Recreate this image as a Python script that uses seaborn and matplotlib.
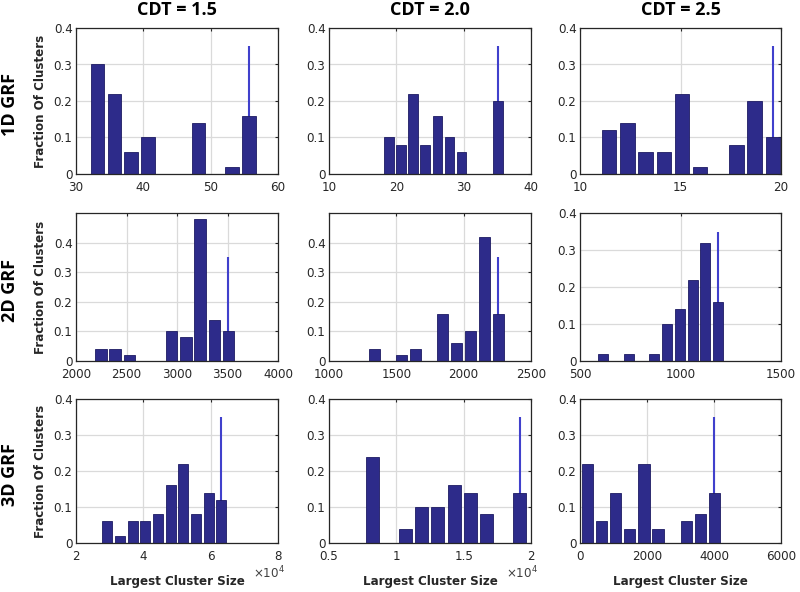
import matplotlib
matplotlib.use("Agg")
import matplotlib.pyplot as plt
from matplotlib.ticker import FuncFormatter, FixedLocator
import seaborn as sns
import pandas as pd

# ---------------- data ----------------
cdt_labels = ["CDT = 1.5", "CDT = 2.0", "CDT = 2.5"]
grf_labels = ["1D GRF", "2D GRF", "3D GRF"]

bins_1d_15 = [33.2, 35.7, 38.2, 40.7, 43.2, 45.7, 48.2, 50.7, 53.2, 55.7]
frac_1d_15 = [0.30, 0.22, 0.06, 0.10, 0.0, 0.0, 0.14, 0.0, 0.02, 0.16]

bins_1d_20 = [18.9, 20.7, 22.5, 24.3, 26.1, 27.9, 29.7, 31.5, 33.3, 35.1]
frac_1d_20 = [0.10, 0.08, 0.22, 0.08, 0.16, 0.10, 0.06, 0.0, 0.0, 0.20]

bins_1d_25 = [11.45, 12.36, 13.26, 14.17, 15.07, 15.98, 16.88, 17.79, 18.69, 19.6]
frac_1d_25 = [0.12, 0.14, 0.06, 0.06, 0.22, 0.02, 0.0, 0.08, 0.20, 0.10]

bins_2d_15 = [2247, 2387, 2527, 2668, 2808, 2948, 3088, 3228, 3369, 3509]
frac_2d_15 = [0.04, 0.04, 0.02, 0.0, 0.0, 0.10, 0.08, 0.48, 0.14, 0.10]

bins_2d_20 = [1335, 1437, 1539, 1642, 1744, 1846, 1948, 2050, 2153, 2255]
frac_2d_20 = [0.04, 0.0, 0.02, 0.04, 0.0, 0.16, 0.06, 0.10, 0.42, 0.16]

bins_2d_25 = [615, 679, 742, 806, 870, 933, 997, 1061, 1124, 1188]
frac_2d_25 = [0.02, 0.0, 0.02, 0.0, 0.02, 0.10, 0.14, 0.22, 0.32, 0.16]

bins_3d_15 = [29200, 33000, 36800, 40500, 44300, 48100, 51900, 55600, 59400, 63200]
frac_3d_15 = [0.06, 0.02, 0.06, 0.06, 0.08, 0.16, 0.22, 0.08, 0.14, 0.12]

bins_3d_20 = [8220, 9440, 10650, 11870, 13080, 14300, 15520, 16730, 17950, 19160]
frac_3d_20 = [0.24, 0.0, 0.04, 0.10, 0.10, 0.16, 0.14, 0.08, 0.0, 0.14]

bins_3d_25 = [228, 648, 1068, 1488, 1908, 2328, 2748, 3168, 3588, 4008]
frac_3d_25 = [0.22, 0.06, 0.14, 0.04, 0.22, 0.04, 0.0, 0.06, 0.08, 0.14]

ref_x = [[55.7, 35.1, 19.6], [3509, 2257, 1188], [63200, 19170, 4000]]
ref_top = 0.35

xlims = [[(30, 60), (10, 40), (10, 20)],
         [(2000, 4000), (1000, 2500), (500, 1500)],
         [(20000, 80000), (5000, 20000), (0, 6000)]]
xticks = [[[30, 40, 50, 60], [10, 20, 30, 40], [10, 15, 20]],
          [[2000, 2500, 3000, 3500, 4000], [1000, 1500, 2000, 2500], [500, 1000, 1500]],
          [[20000, 40000, 60000, 80000], [5000, 10000, 15000, 20000], [0, 2000, 4000, 6000]]]
xscale = [[1, 1, 1], [1, 1, 1], [1e4, 1e4, 1]]
ylims = [[0.4, 0.4, 0.4], [0.5, 0.5, 0.4], [0.4, 0.4, 0.4]]
yticks = [0, 0.1, 0.2, 0.3, 0.4]

bins = [[bins_1d_15, bins_1d_20, bins_1d_25],
        [bins_2d_15, bins_2d_20, bins_2d_25],
        [bins_3d_15, bins_3d_20, bins_3d_25]]
fracs = [[frac_1d_15, frac_1d_20, frac_1d_25],
         [frac_2d_15, frac_2d_20, frac_2d_25],
         [frac_3d_15, frac_3d_20, frac_3d_25]]

# ---------------- style ----------------
sns.set_style("white")
plt.rcParams["font.family"] = ["DejaVu Sans"]

BAR = "#2d2b8a"
EDGE = "#1d1b63"
LINE = "#4040cc"
TXT = "#262626"

W, H = 800, 592
fig = plt.figure(figsize=(8.0, 5.92), dpi=100)

col_left = [76, 329, 580]
col_w = [202, 202, 201]
row_top = [28, 213, 399]
row_bot = [174, 361, 543]

for r in range(3):
    for c in range(3):
        l = col_left[c]
        t = row_top[r]
        b = row_bot[r]
        ax = fig.add_axes([l / W, 1 - b / H, col_w[c] / W, (b - t) / H])
        df = pd.DataFrame({"center": bins[r][c], "fraction": fracs[r][c]})
        sns.barplot(data=df, x="center", y="fraction", native_scale=True,
                    orient="x", ax=ax, color=BAR, saturation=1, errorbar=None,
                    width=0.8, edgecolor=EDGE, linewidth=0.6, zorder=2)
        ax.vlines(ref_x[r][c], 0, ref_top, color=LINE, lw=1.5, zorder=1.5)
        ax.set_xlim(*xlims[r][c])
        ax.set_ylim(0, ylims[r][c])
        ax.xaxis.set_major_locator(FixedLocator(xticks[r][c]))
        ax.yaxis.set_major_locator(FixedLocator(yticks))
        s = xscale[r][c]
        ax.xaxis.set_major_formatter(FuncFormatter(lambda v, p, s=s: "%g" % (v / s)))
        ax.yaxis.set_major_formatter(FuncFormatter(lambda v, p: "%g" % v))
        ax.set_xlabel("")
        ax.set_ylabel("")
        ax.grid(True, color="#dadada", lw=0.9, zorder=0)
        ax.set_axisbelow(True)
        for sp in ax.spines.values():
            sp.set_visible(True)
            sp.set_color(TXT)
            sp.set_linewidth(0.9)
            sp.set_zorder(5)
        ax.tick_params(axis="both", which="major", direction="in", length=2.5,
                       width=0.8, color=TXT, labelcolor=TXT, labelsize=8.6,
                       top=True, right=True)
        ax.tick_params(axis="x", pad=5)
        ax.tick_params(axis="y", pad=2.5)
        if s != 1:
            ax.text(1.035, -0.205, r"$\times10^4$", transform=ax.transAxes,
                    ha="right", va="center", fontsize=8.6, color="#404040")
        if c == 0:
            fig.text(41 / W, 1 - ((t + b) / 2) / H, "Fraction Of Clusters",
                     rotation=90, ha="center", va="center", fontsize=8.6,
                     fontweight="bold", color=TXT)
            fig.text(10 / W, 1 - ((t + b) / 2 + 4) / H, grf_labels[r],
                     rotation=90, ha="center", va="center", fontsize=13,
                     fontweight="bold", family=["Open Sans", "DejaVu Sans"],
                     color="black")
        if r == 0:
            fig.text((l + col_w[c] / 2) / W, 1 - 10 / H, cdt_labels[c],
                     ha="center", va="center", fontsize=13, fontweight="bold",
                     family=["Open Sans", "DejaVu Sans"], color="black")
        if r == 2:
            fig.text((l + col_w[c] / 2) / W, 1 - 582 / H, "Largest Cluster Size",
                     ha="center", va="center", fontsize=8.6, fontweight="bold",
                     color=TXT)

fig.savefig("out.png", dpi=100)
